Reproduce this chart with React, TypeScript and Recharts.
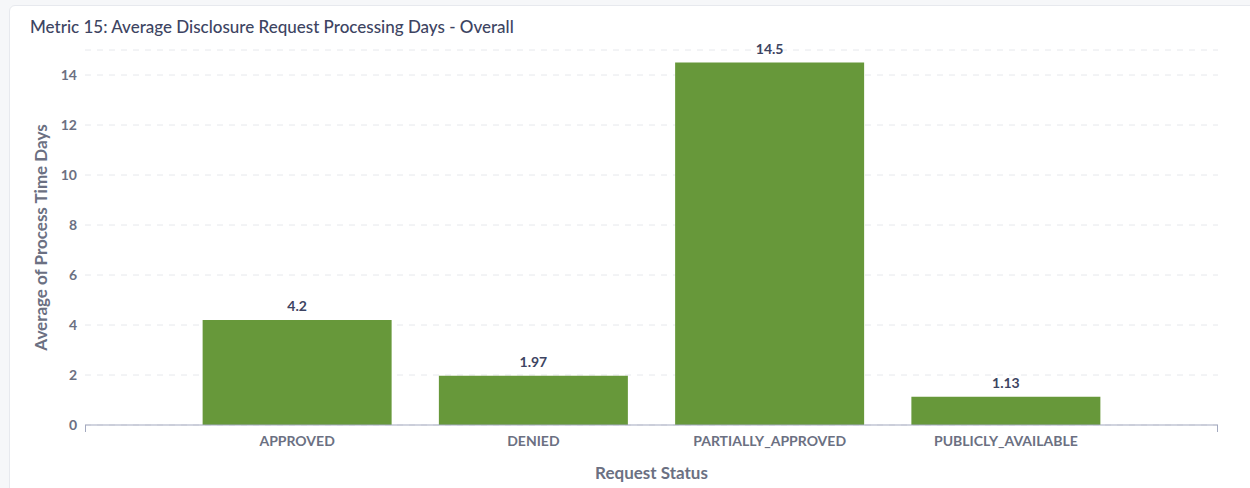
import React from "react";
import { BarChart, Bar, XAxis, YAxis, CartesianGrid, LabelList, usePlotArea } from "recharts";

const categories = ["APPROVED", "DENIED", "PARTIALLY_APPROVED", "PUBLICLY_AVAILABLE"];
const avgDays = [4.2, 1.97, 14.5, 1.13];
const yTicks = [0, 2, 4, 6, 8, 10, 12, 14];

const data = categories.map((c, i) => ({ status: c, days: avgDays[i] }));

const FONT = "Lato, 'Open Sans', sans-serif";
const AXIS_COLOR = "#a3a9bf";
const TICK_COLOR = "#6b7082";

function AxisEndTicks() {
  const p = usePlotArea();
  if (!p) return null;
  const y0 = p.y + p.height;
  return (
    <g>
      <line x1={p.x + 0.5} x2={p.x + 0.5} y1={y0} y2={y0 + 7} stroke={AXIS_COLOR} />
      <line x1={p.x + p.width - 0.5} x2={p.x + p.width - 0.5} y1={y0} y2={y0 + 7} stroke={AXIS_COLOR} />
    </g>
  );
}

export default function App() {
  return (
    <div style={{ position: "absolute", left: 0, top: 0, width: 1250, height: 488, background: "#f6f7f9", overflow: "hidden", fontFamily: FONT }}>
      <div style={{ position: "absolute", left: 9, top: 5, width: 1260, height: 500, background: "#fff", border: "1px solid #e7e9ee", borderRadius: 6 }} />
      <div style={{ position: "absolute", left: 30, top: 16, fontSize: 17, color: "#3d4462", fontWeight: 500, whiteSpace: "nowrap" }}>
        Metric 15: Average Disclosure Request Processing Days - Overall
      </div>
      <div style={{ position: "absolute", left: 0, top: 0 }}>
        <BarChart width={1250} height={488} data={data} margin={{ top: 50, right: 32, bottom: 0, left: 0 }} barCategoryGap="10%">
          <CartesianGrid vertical={false} stroke="#e6e8ec" strokeDasharray="6 6" />
          <XAxis
            dataKey="status"
            height={63}
            padding={{ left: 94, right: 94 }}
            axisLine={{ stroke: AXIS_COLOR }}
            tickLine={false}
            tickMargin={5}
            tick={{ fill: TICK_COLOR, fontSize: 14, fontWeight: 700, fontFamily: FONT }}
            label={{ value: "Request Status", position: "insideBottom", offset: 9, fill: TICK_COLOR, fontSize: 17, fontWeight: 700, fontFamily: FONT }}
          />
          <YAxis
            width={85}
            domain={[0, 15]}
            ticks={yTicks}
            axisLine={false}
            tickLine={false}
            tick={{ fill: TICK_COLOR, fontSize: 14, fontWeight: 700, fontFamily: FONT }}
            label={{ value: "Average of Process Time Days", angle: -90, position: "insideLeft", offset: 41, style: { textAnchor: "middle" }, fill: TICK_COLOR, fontSize: 17, fontWeight: 700, fontFamily: FONT }}
          />
          <Bar dataKey="days" fill="#67983a" isAnimationActive={false}>
            <LabelList dataKey="days" position="top" offset={9} fill="#3d4462" fontSize={14} fontWeight={700} fontFamily={FONT} />
          </Bar>
          <AxisEndTicks />
        </BarChart>
      </div>
    </div>
  );
}
